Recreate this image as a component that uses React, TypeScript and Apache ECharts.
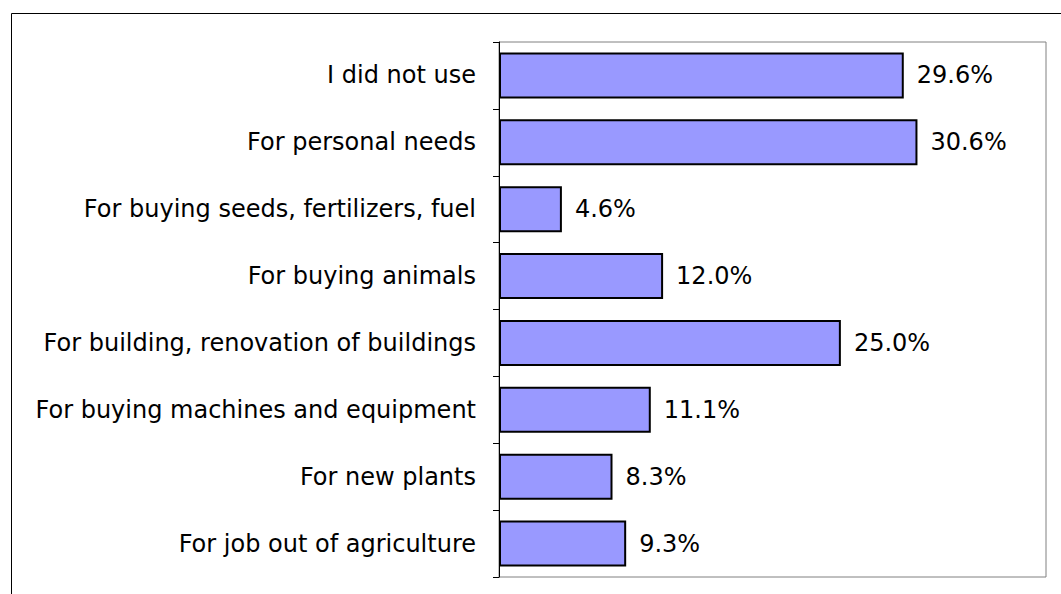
import React, { useEffect, useRef } from "react";
import * as echarts from "echarts";

const categories = [
  "I did not use",
  "For personal needs",
  "For buying seeds, fertilizers, fuel",
  "For buying animals",
  "For building, renovation of buildings",
  "For buying machines and equipment",
  "For new plants",
  "For job out of agriculture",
];
const values = [29.6, 30.6, 4.6, 12.0, 25.0, 11.1, 8.3, 9.3];
const axisMax = 40;

const FONT = "'DejaVu Sans', 'Liberation Sans', Arial, sans-serif";

export default function App() {
  const ref = useRef<HTMLDivElement>(null);
  useEffect(() => {
    if (!ref.current) return;
    const chart = echarts.init(ref.current, null, { renderer: "svg" });
    chart.setOption({
      animation: false,
      backgroundColor: "#ffffff",
      grid: {
        left: 499,
        right: 15,
        top: 42,
        bottom: 17,
        show: true,
        borderColor: "#808080",
        borderWidth: 1,
        backgroundColor: "transparent",
      },
      xAxis: {
        type: "value",
        min: 0,
        max: axisMax,
        show: false,
        splitLine: { show: false },
      },
      yAxis: {
        type: "category",
        data: categories,
        inverse: true,
        axisLine: { show: true, lineStyle: { color: "#000000", width: 1 } },
        axisTick: { show: true, length: 6, lineStyle: { color: "#000000" } },
        axisLabel: {
          color: "#000000",
          fontSize: 24,
          fontFamily: FONT,
          margin: 23,
        },
        splitLine: { show: false },
      },
      graphic: [
        {
          type: "line",
          shape: { x1: 11.5, y1: 13.5, x2: 1061, y2: 13.5 },
          style: { stroke: "#000000", lineWidth: 1 },
        },
        {
          type: "line",
          shape: { x1: 11.5, y1: 13.5, x2: 11.5, y2: 594 },
          style: { stroke: "#000000", lineWidth: 1 },
        },
      ],
      series: [
        {
          type: "bar",
          data: values,
          barWidth: 46,
          itemStyle: {
            color: "#9999FF",
            borderColor: "#000000",
            borderWidth: 2,
          },
          label: {
            show: true,
            position: "right",
            distance: 13,
            color: "#000000",
            fontSize: 24,
            fontFamily: FONT,
            formatter: (p: any) => Number(p.value).toFixed(1) + "%",
          },
        },
      ],
    });
    return () => chart.dispose();
  }, []);
  return (
    <div
      ref={ref}
      style={{ position: "fixed", left: 0, top: 0, width: 1061, height: 594 }}
    />
  );
}
